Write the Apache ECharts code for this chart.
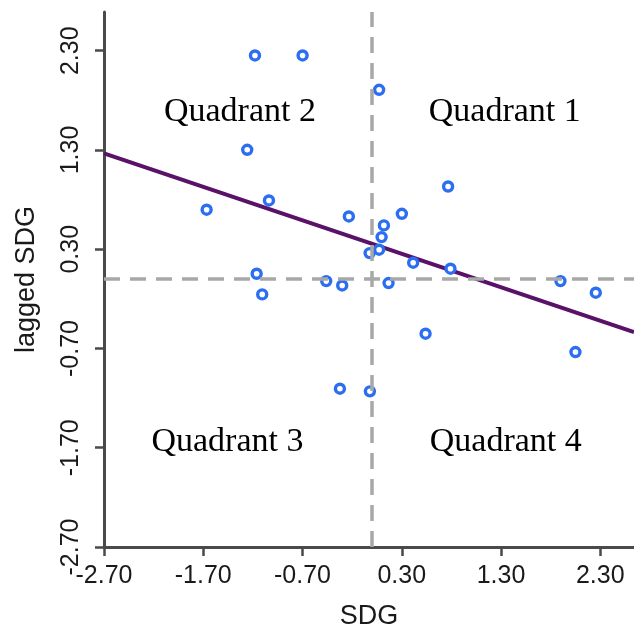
<!DOCTYPE html>
<html>
<head>
<meta charset="utf-8">
<script src="https://cdn.jsdelivr.net/npm/echarts@6/dist/echarts.min.js"></script>
<style>
  html, body { margin: 0; padding: 0; background: #fff; }
  #chart { width: 634px; height: 635px; }
</style>
</head>
<body>
<div id="chart"></div>
<script>
// SDG vs lagged SDG
const sdg = [-1.179, -0.699, -1.257, -1.666, -1.038, -1.162, -1.106, 0.072, 0.767, -0.233,
  0.301, 0.120, 0.097, 0.072, -0.024, 0.415, 0.791, -0.461, -0.300, 0.167,
  1.899, 2.255, 0.540, 2.050, -0.323, -0.021];
const laggedSdg = [2.252, 2.252, 1.302, 0.698, 0.791, 0.053, -0.155, 1.906, 0.932, 0.630,
  0.657, 0.540, 0.422, 0.295, 0.261, 0.164, 0.104, -0.021, -0.065, -0.041,
  -0.021, -0.138, -0.551, -0.736, -1.105, -1.132];

// fitted line end points
const fitX = [-2.70, 2.64];
const fitY = [1.265, -0.535];

const tickValues = [-2.70, -1.70, -0.70, 0.30, 1.30, 2.30];

const quadNames = ['Quadrant 1', 'Quadrant 2', 'Quadrant 3', 'Quadrant 4'];
const quadX = [1.338, -1.330, -1.456, 1.348];
const quadY = [1.683, 1.683, -1.641, -1.641];

const chart = echarts.init(document.getElementById('chart'));

const axisCommon = {
  type: 'value',
  splitLine: { show: false },
  axisLine: { show: true, onZero: false, lineStyle: { color: '#4a4a4a', width: 3 } },
  axisTick: { show: true, length: 9, customValues: tickValues, lineStyle: { color: '#4a4a4a', width: 2.5 } },
  axisLabel: {
    customValues: tickValues,
    formatter: v => v.toFixed(2),
    fontFamily: 'Liberation Sans',
    fontSize: 25,
    color: '#1a1a1a'
  },
  nameLocation: 'middle',
  nameTextStyle: { fontFamily: 'Liberation Sans', fontSize: 27, color: '#1a1a1a' }
};

const option = {
  animation: false,
  grid: { left: 104, right: 0, top: 12, bottom: 88 },
  xAxis: Object.assign({}, axisCommon, {
    min: -2.70, max: 2.64,
    name: 'SDG', nameGap: 56,
    axisLabel: Object.assign({}, axisCommon.axisLabel, { margin: 17 })
  }),
  yAxis: Object.assign({}, axisCommon, {
    min: -2.70, max: 2.69,
    name: 'lagged SDG', nameGap: 64,
    axisLabel: Object.assign({}, axisCommon.axisLabel, { rotate: 90, margin: 20 })
  }),
  series: [
    {
      type: 'line',
      data: [],
      silent: true,
      markLine: {
        symbol: 'none',
        silent: true,
        label: { show: false },
        lineStyle: { color: '#a8a8a8', width: 3.5, type: [16, 10] },
        data: [{ xAxis: 0 }, { yAxis: 0 }]
      }
    },
    {
      type: 'line',
      data: fitX.map((x, i) => [x, fitY[i]]),
      showSymbol: false,
      lineStyle: { color: '#5a1268', width: 4 },
      z: 3
    },
    {
      type: 'scatter',
      data: sdg.map((x, i) => [x, laggedSdg[i]]),
      symbol: 'circle',
      symbolSize: 9,
      itemStyle: { color: '#fff', borderColor: '#2b6ef2', borderWidth: 3.4, opacity: 1 },
      z: 4
    },
    {
      type: 'scatter',
      data: quadNames.map((n, i) => ({ name: n, value: [quadX[i], quadY[i]] })),
      symbolSize: 0,
      silent: true,
      itemStyle: { opacity: 1 },
      label: {
        show: true,
        position: 'inside',
        formatter: p => p.name,
        fontFamily: 'Liberation Serif',
        fontSize: 34,
        color: '#000'
      }
    }
  ]
};

chart.setOption(option);
</script>
</body>
</html>
